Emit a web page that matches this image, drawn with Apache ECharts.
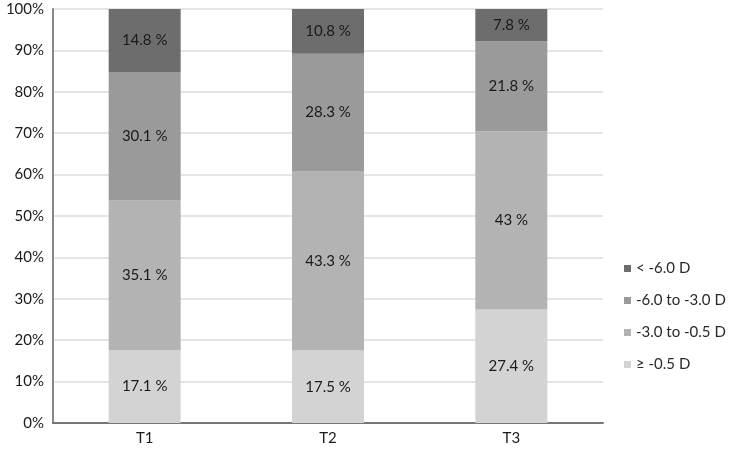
<!DOCTYPE html>
<html>
<head>
<meta charset="utf-8">
<script src="https://cdn.jsdelivr.net/npm/echarts@6/dist/echarts.min.js"></script>
<style>
  html, body { margin: 0; padding: 0; background: #fff; }
  #main { width: 731px; height: 451px; }
</style>
</head>
<body>
<div id="main"></div>
<script>
var categories = ['T1', 'T2', 'T3'];
var seriesNames = ['≥ -0.5 D', '-3.0 to -0.5 D', '-6.0 to -3.0 D', '< -6.0 D'];
var values = [
    [17.1, 17.5, 27.4],
    [35.1, 43.3, 43],
    [30.1, 28.3, 21.8],
    [14.8, 10.8, 7.8]
];
var colors = ['#d3d3d3', '#b3b3b3', '#9a9a9a', '#6d6d6d'];

// totals per category, bars are drawn as share of 100%
var totals = categories.map(function (c, i) {
    var s = 0;
    values.forEach(function (v) { s += v[i]; });
    return s;
});

var myChart = echarts.init(document.getElementById('main'));
var series = seriesNames.map(function (name, k) {
    return {
        name: name,
        type: 'bar',
        stack: 'all',
        barWidth: 72,
        itemStyle: { color: colors[k] },
        label: {
            show: true,
            color: '#1a1a1a',
            fontSize: 15,
            formatter: function (p) { return values[k][p.dataIndex] + ' %'; }
        },
        data: values[k].map(function (v, i) { return v / totals[i] * 100; })
    };
});

var option = {
    animation: false,
    textStyle: { fontFamily: 'Lato' },
    grid: { left: 53, right: 128, top: 9, bottom: 28 },
    legend: {
        orient: 'vertical',
        left: 619,
        top: 256,
        itemWidth: 7,
        itemHeight: 7,
        itemGap: 17,
        icon: 'rect',
        textStyle: { fontSize: 15, color: '#2a2a2a' },
        data: seriesNames.slice().reverse()
    },
    xAxis: {
        type: 'category',
        data: categories,
        axisTick: { show: false },
        axisLine: { lineStyle: { color: '#777', width: 2 } },
        axisLabel: { color: '#1a1a1a', fontSize: 15, margin: 8 }
    },
    yAxis: {
        type: 'value',
        min: 0,
        max: 100,
        interval: 10,
        axisLine: { show: true, lineStyle: { color: '#888', width: 2 } },
        axisTick: { show: false },
        axisLabel: { color: '#1a1a1a', fontSize: 15, formatter: '{value}%', margin: 9 },
        splitLine: { lineStyle: { color: '#dcdcdc', width: 1.5 } }
    },
    series: series
};
myChart.setOption(option);
</script>
</body>
</html>
